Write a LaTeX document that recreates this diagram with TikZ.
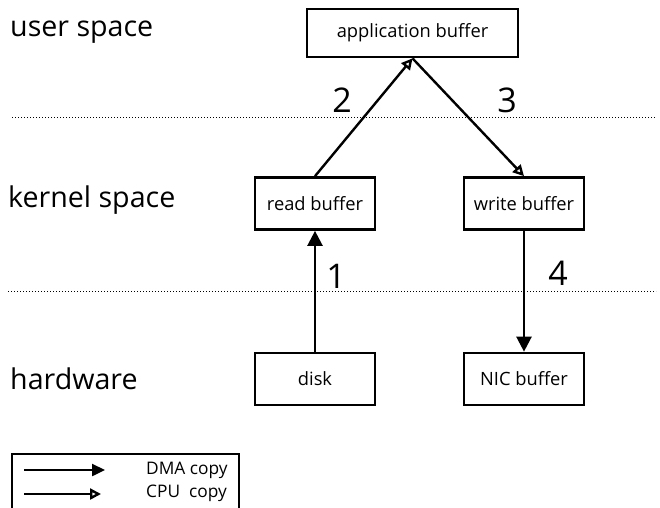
\documentclass[tikz,border=0pt]{standalone}
\usepackage{fontspec}
\setmainfont{Open Sans}
\usetikzlibrary{arrows.meta}
\begin{document}
\begin{tikzpicture}[x=1pt,y=-1pt,
  buf/.style={draw,line width=2.7pt,minimum height=52pt,inner sep=0pt,font=\fontsize{18.3}{20}\selectfont},
  layer/.style={anchor=west,inner sep=0pt,font=\fontsize{28.6}{32}\selectfont},
  stepnum/.style={inner sep=0pt,font=\fontsize{34}{38}\selectfont},
  sep/.style={line width=1pt,dotted},
  dma/.style={line width=2.4pt,-{Triangle[length=15pt,width=15pt]}},
  cpu/.style={line width=2.4pt,-{Triangle[open,length=11pt,width=11pt,line width=2.4pt]}},
  legtext/.style={anchor=west,inner sep=0pt,font=\fontsize{17.3}{20}\selectfont}]
  \useasboundingbox (0,0) rectangle (660,507);

  % layer separators
  \draw[sep] (12,117) -- (656,117);
  \draw[sep] (8,291) -- (656,291);

  % layer names
  \node[layer] (us) at (10,32.5) {user space};
  \node[layer] (ks) at (8,200.5) {kernel space};
  \node[layer] (hw) at (10,379) {hardware};

  % buffers
  \node[buf,minimum width=211pt,minimum height=48pt] (app) at (412.5,33) {application buffer};
  \node[buf,minimum width=120pt] (rb) at (315,203.5) {read buffer};
  \node[buf,minimum width=120pt] (wb) at (524,203.5) {write buffer};
  \node[buf,minimum width=120pt] (disk) at (315,379) {disk};
  \node[buf,minimum width=120pt] (nic) at (524,379) {NIC buffer};

  % copies
  \draw[dma] (disk.north) -- (rb.south);
  \draw[cpu] (rb.north) -- (app.south);
  \draw[cpu] (app.south) -- (wb.north);
  \draw[dma] (wb.south) -- (nic.north);

  % step numbers
  \node[stepnum] (n1) at (336,276) {1};
  \node[stepnum] (n2) at (342,100) {2};
  \node[stepnum] (n3) at (507,100) {3};
  \node[stepnum] (n4) at (558,273) {4};

  % legend
  \draw[line width=1.8pt] (12,515) -- (12,454) -- (239,454) -- (239,515);
  \coordinate (d0) at (24,470);
  \coordinate (d1) at (105,470);
  \coordinate (c0) at (24,494);
  \coordinate (c1) at (101,494);
  \draw[dma,-{Triangle[length=13pt,width=12pt]}] (d0) -- (d1);
  \draw[cpu] (c0) -- (c1);
  \node[legtext] (ldma) at (146,470) {DMA copy};
  \node[legtext] (lcpu) at (146,493) {CPU\ \ copy};
\end{tikzpicture}
\end{document}
